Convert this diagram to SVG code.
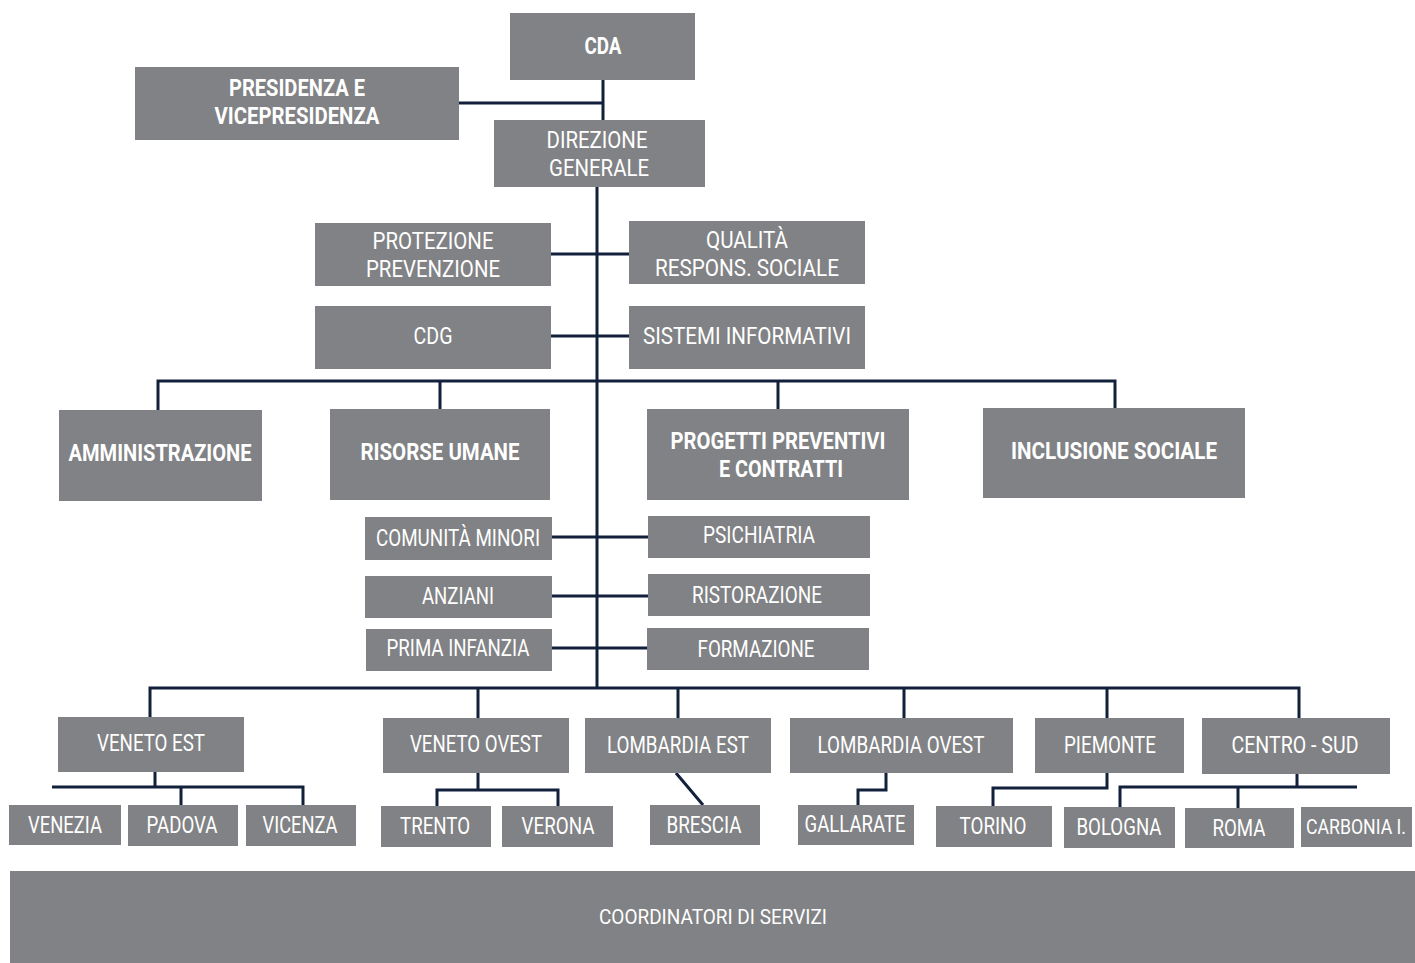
<svg xmlns="http://www.w3.org/2000/svg" width="1415" height="963" viewBox="0 0 1415 963">
<style>
.b{fill:#818285}
.t{fill:#fff;font-family:Roboto,"Liberation Sans",sans-serif;font-size:23px;text-anchor:middle}
.bd{font-weight:bold}
.c{fill:none;stroke:#13203b;stroke-width:3}
</style>
<rect width="1415" height="963" fill="#fff"/>
<g id="connectors" class="c">
<path d="M603 80V120M459 103H603"/>
<path d="M597 187V688"/>
<path d="M551 254H629M551 336H629"/>
<path d="M158 410V381H1115V408M440 381V409M778 381V409"/>
<path d="M552 537H648M552 596H648M552 648H647"/>
<path d="M150 717V688H1299V718M478 688V718M678 688V718M904 688V718M1107 688V718"/>
<path d="M155 772V787M52 787H303V805M181 787V805"/>
<path d="M478 773V790M437 806V790H558V806"/>
<path d="M676 773L703 805"/>
<path d="M886 773V790H858V805"/>
<path d="M1107 773V788H993V806"/>
<path d="M1297 774V787M1120 807V787H1357M1238 787V808"/>
</g>
<g id="cda"><rect class="b" x="510" y="13" width="185" height="67"/><text class="t bd" x="603" y="54" textLength="37" lengthAdjust="spacingAndGlyphs">CDA</text></g>
<g id="presidenza"><rect class="b" x="135" y="67" width="324" height="73"/><text class="t bd" x="297" y="96" textLength="136" lengthAdjust="spacingAndGlyphs">PRESIDENZA E</text><text class="t bd" x="297" y="124" textLength="165" lengthAdjust="spacingAndGlyphs">VICEPRESIDENZA</text></g>
<g id="direzione"><rect class="b" x="494" y="120" width="211" height="67"/><text class="t" x="597" y="148" textLength="101" lengthAdjust="spacingAndGlyphs">DIREZIONE</text><text class="t" x="599" y="176" textLength="100" lengthAdjust="spacingAndGlyphs">GENERALE</text></g>
<g id="protezione"><rect class="b" x="315" y="223" width="236" height="63"/><text class="t" x="433" y="249" textLength="121" lengthAdjust="spacingAndGlyphs">PROTEZIONE</text><text class="t" x="433" y="277" textLength="134" lengthAdjust="spacingAndGlyphs">PREVENZIONE</text></g>
<g id="qualita"><rect class="b" x="629" y="221" width="236" height="63"/><text class="t" x="747" y="248" textLength="82" lengthAdjust="spacingAndGlyphs">QUALITÀ</text><text class="t" x="747" y="276" textLength="184" lengthAdjust="spacingAndGlyphs">RESPONS. SOCIALE</text></g>
<g id="cdg"><rect class="b" x="315" y="306" width="236" height="63"/><text class="t" x="433" y="344" textLength="39" lengthAdjust="spacingAndGlyphs">CDG</text></g>
<g id="sistemi"><rect class="b" x="629" y="306" width="236" height="63"/><text class="t" x="747" y="344" textLength="208" lengthAdjust="spacingAndGlyphs">SISTEMI INFORMATIVI</text></g>
<g id="amministrazione"><rect class="b" x="59" y="410" width="203" height="91"/><text class="t bd" x="160" y="461" textLength="183" lengthAdjust="spacingAndGlyphs">AMMINISTRAZIONE</text></g>
<g id="risorse"><rect class="b" x="330" y="409" width="220" height="91"/><text class="t bd" x="440" y="460" textLength="159" lengthAdjust="spacingAndGlyphs">RISORSE UMANE</text></g>
<g id="progetti"><rect class="b" x="647" y="409" width="262" height="91"/><text class="t bd" x="778" y="449" textLength="215" lengthAdjust="spacingAndGlyphs">PROGETTI PREVENTIVI</text><text class="t bd" x="781" y="477" textLength="124" lengthAdjust="spacingAndGlyphs">E CONTRATTI</text></g>
<g id="inclusione"><rect class="b" x="983" y="408" width="262" height="90"/><text class="t bd" x="1114" y="459" textLength="206" lengthAdjust="spacingAndGlyphs">INCLUSIONE SOCIALE</text></g>
<g id="comunita"><rect class="b" x="365" y="517" width="187" height="43"/><text class="t" x="458" y="546" textLength="164" lengthAdjust="spacingAndGlyphs">COMUNITÀ MINORI</text></g>
<g id="psichiatria"><rect class="b" x="648" y="516" width="222" height="42"/><text class="t" x="759" y="543" textLength="112" lengthAdjust="spacingAndGlyphs">PSICHIATRIA</text></g>
<g id="anziani"><rect class="b" x="365" y="576" width="187" height="42"/><text class="t" x="458" y="604" textLength="72" lengthAdjust="spacingAndGlyphs">ANZIANI</text></g>
<g id="ristorazione"><rect class="b" x="648" y="574" width="222" height="42"/><text class="t" x="757" y="603" textLength="130" lengthAdjust="spacingAndGlyphs">RISTORAZIONE</text></g>
<g id="primainfanzia"><rect class="b" x="366" y="629" width="186" height="42"/><text class="t" x="458" y="656" textLength="143" lengthAdjust="spacingAndGlyphs">PRIMA INFANZIA</text></g>
<g id="formazione"><rect class="b" x="647" y="628" width="222" height="42"/><text class="t" x="756" y="657" textLength="117" lengthAdjust="spacingAndGlyphs">FORMAZIONE</text></g>
<g id="venetoest"><rect class="b" x="58" y="717" width="186" height="55"/><text class="t" x="151" y="751" textLength="108" lengthAdjust="spacingAndGlyphs">VENETO EST</text></g>
<g id="venetoovest"><rect class="b" x="383" y="718" width="186" height="55"/><text class="t" x="476" y="752" textLength="132" lengthAdjust="spacingAndGlyphs">VENETO OVEST</text></g>
<g id="lombardiaest"><rect class="b" x="585" y="718" width="186" height="55"/><text class="t" x="678" y="753" textLength="142" lengthAdjust="spacingAndGlyphs">LOMBARDIA EST</text></g>
<g id="lombardiaovest"><rect class="b" x="790" y="718" width="223" height="55"/><text class="t" x="901" y="753" textLength="167" lengthAdjust="spacingAndGlyphs">LOMBARDIA OVEST</text></g>
<g id="piemonte"><rect class="b" x="1035" y="718" width="149" height="55"/><text class="t" x="1110" y="753" textLength="92" lengthAdjust="spacingAndGlyphs">PIEMONTE</text></g>
<g id="centrosud"><rect class="b" x="1202" y="718" width="188" height="56"/><text class="t" x="1295" y="753" textLength="127" lengthAdjust="spacingAndGlyphs">CENTRO - SUD</text></g>
<g id="venezia"><rect class="b" x="9" y="805" width="112" height="40"/><text class="t" x="65" y="833" textLength="74" lengthAdjust="spacingAndGlyphs">VENEZIA</text></g>
<g id="padova"><rect class="b" x="128" y="805" width="110" height="41"/><text class="t" x="182" y="833" textLength="71" lengthAdjust="spacingAndGlyphs">PADOVA</text></g>
<g id="vicenza"><rect class="b" x="246" y="805" width="110" height="41"/><text class="t" x="300" y="833" textLength="75" lengthAdjust="spacingAndGlyphs">VICENZA</text></g>
<g id="trento"><rect class="b" x="381" y="806" width="110" height="41"/><text class="t" x="435" y="834" textLength="70" lengthAdjust="spacingAndGlyphs">TRENTO</text></g>
<g id="verona"><rect class="b" x="502" y="806" width="111" height="41"/><text class="t" x="558" y="834" textLength="73" lengthAdjust="spacingAndGlyphs">VERONA</text></g>
<g id="brescia"><rect class="b" x="650" y="805" width="110" height="40"/><text class="t" x="704" y="833" textLength="75" lengthAdjust="spacingAndGlyphs">BRESCIA</text></g>
<g id="gallarate"><rect class="b" x="798" y="805" width="116" height="40"/><text class="t" x="855" y="832" textLength="101" lengthAdjust="spacingAndGlyphs">GALLARATE</text></g>
<g id="torino"><rect class="b" x="936" y="806" width="116" height="41"/><text class="t" x="993" y="834" textLength="67" lengthAdjust="spacingAndGlyphs">TORINO</text></g>
<g id="bologna"><rect class="b" x="1064" y="807" width="111" height="41"/><text class="t" x="1119" y="835" textLength="85" lengthAdjust="spacingAndGlyphs">BOLOGNA</text></g>
<g id="roma"><rect class="b" x="1185" y="808" width="109" height="40"/><text class="t" x="1239" y="836" textLength="53" lengthAdjust="spacingAndGlyphs">ROMA</text></g>
<g id="carbonia"><rect class="b" x="1301" y="807" width="111" height="40"/><text class="t" x="1356" y="834" style="font-size:20px" textLength="100" lengthAdjust="spacingAndGlyphs">CARBONIA I.</text></g>
<g id="coordinatori"><rect class="b" x="10" y="871" width="1405" height="92"/><text class="t" x="713" y="924" style="font-size:20px" textLength="228" lengthAdjust="spacingAndGlyphs">COORDINATORI DI SERVIZI</text></g>
</svg>
